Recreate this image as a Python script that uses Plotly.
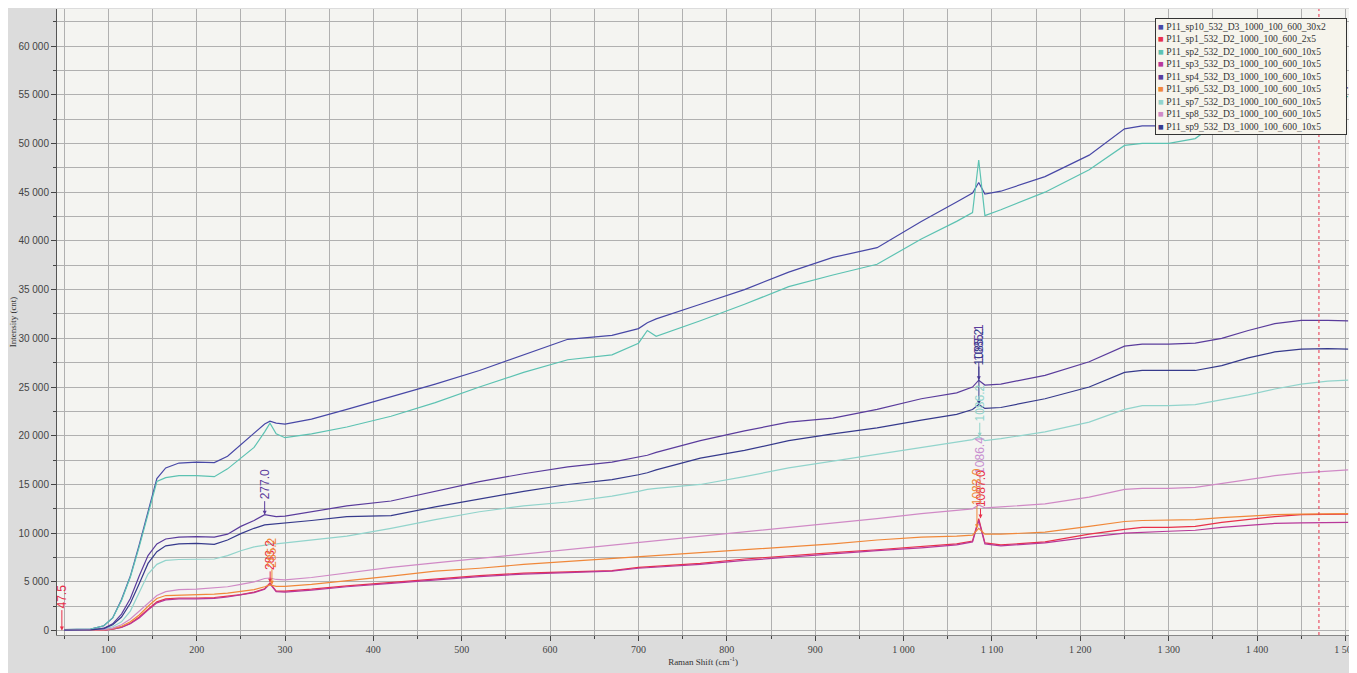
import numpy as np
import plotly.graph_objects as go

# ---------------- data ----------------
X = [50, 80, 95, 105, 115, 125, 135, 145, 155, 165,
     180, 200, 220, 235, 250, 265, 277, 283, 290, 300,
     330, 370, 420, 470, 520, 570, 620, 670, 700, 710,
     720, 770, 820, 870, 920, 970, 1020, 1060, 1078, 1085,
     1092, 1110, 1160, 1210, 1250, 1270, 1300, 1330, 1360, 1390,
     1420, 1450, 1480, 1503]

SP10 = [100, 150, 500, 1300, 3200, 5600, 8800, 12300, 15600, 16700,
        17200, 17300, 17250, 17900, 19100, 20300, 21200, 21500, 21300, 21200,
        21700, 22700, 24000, 25300, 26700, 28300, 29900, 30300, 31000, 31600,
        32000, 33500, 35000, 36800, 38300, 39300, 42000, 44000, 44900, 46000,
        44800, 45100, 46600, 48800, 51500, 51800, 51800, 52300, 53500, 54500,
        55000, 55300, 55700, 55700]
SP1 = [20, 30, 60, 150, 350, 750, 1400, 2200, 2950, 3250,
       3350, 3350, 3400, 3550, 3700, 3950, 4300, 4900, 4050, 4050,
       4250, 4600, 4950, 5300, 5650, 5900, 6000, 6150, 6500, 6550,
       6650, 6900, 7350, 7700, 8000, 8300, 8600, 8900, 9200, 11500,
       9000, 8800, 9100, 9900, 10400, 10600, 10600, 10700, 11100, 11400,
       11700, 11900, 11950, 11950]
SP2 = [100, 150, 500, 1300, 3100, 5500, 8600, 12000, 15300, 15700,
       15900, 15900, 15800, 16600, 17700, 18800, 20400, 21300, 20200, 19800,
       20200, 20900, 22000, 23400, 25000, 26500, 27800, 28300, 29500, 30800,
       30200, 31800, 33500, 35300, 36500, 37600, 40200, 42000, 42900, 48300,
       42600, 43200, 45000, 47300, 49800, 50000, 50000, 50500, 52500, 54300,
       54700, 54800, 54800, 54800]
SP3 = [20, 30, 60, 150, 330, 700, 1300, 2100, 2850, 3150,
       3250, 3250, 3300, 3450, 3650, 3900, 4250, 4800, 4000, 3950,
       4150, 4500, 4850, 5200, 5550, 5800, 5950, 6100, 6400, 6450,
       6550, 6800, 7200, 7550, 7850, 8200, 8500, 8800, 9100, 11300,
       8900, 8700, 9000, 9600, 10000, 10100, 10200, 10300, 10600, 10800,
       11000, 11050, 11100, 11100]
SP4 = [50, 80, 250, 700, 1700, 3300, 5600, 7700, 8900, 9400,
       9600, 9650, 9600, 9900, 10700, 11300, 11900, 11800, 11700, 11750,
       12200, 12800, 13300, 14300, 15300, 16100, 16800, 17300, 17800, 18000,
       18300, 19500, 20500, 21400, 21800, 22700, 23800, 24400, 25000, 25700,
       25200, 25300, 26200, 27600, 29200, 29400, 29400, 29500, 30000, 30800,
       31500, 31850, 31850, 31800]
SP6 = [20, 30, 80, 200, 450, 900, 1600, 2500, 3300, 3600,
       3650, 3650, 3750, 3850, 4000, 4200, 4500, 4700, 4550, 4550,
       4750, 5100, 5600, 6100, 6400, 6800, 7100, 7400, 7600, 7700,
       7750, 8000, 8300, 8600, 8900, 9300, 9600, 9700, 9800, 10500,
       9900, 9900, 10100, 10700, 11200, 11300, 11350, 11400, 11600, 11750,
       11900, 11950, 12000, 12000]
SP7 = [50, 70, 150, 400, 900, 2000, 3900, 5800, 6800, 7200,
       7300, 7350, 7350, 7700, 8200, 8600, 8800, 8850, 8900, 9000,
       9300, 9700, 10500, 11400, 12200, 12800, 13200, 13800, 14300, 14500,
       14600, 15000, 15800, 16700, 17400, 18100, 18800, 19300, 19600, 19900,
       19500, 19700, 20400, 21400, 22700, 23100, 23100, 23200, 23700, 24200,
       24800, 25300, 25600, 25700]
SP8 = [30, 40, 100, 250, 600, 1200, 2000, 2900, 3600, 4000,
       4200, 4250, 4350, 4500, 4750, 5000, 5350, 5400, 5250, 5200,
       5450, 5900, 6500, 6950, 7400, 7900, 8300, 8800, 9000, 9100,
       9200, 9700, 10100, 10600, 11000, 11500, 12000, 12300, 12500, 12900,
       12600, 12700, 13000, 13700, 14500, 14600, 14600, 14700, 15100, 15500,
       15900, 16200, 16400, 16500]
SP9 = [50, 80, 200, 600, 1400, 2800, 4800, 6900, 8100, 8700,
       8900, 8950, 8850, 9300, 9950, 10500, 10850, 10900, 10950, 11000,
       11300, 11700, 11800, 12700, 13500, 14300, 15000, 15500, 16000, 16200,
       16500, 17700, 18500, 19500, 20200, 20800, 21600, 22200, 22700, 23200,
       22800, 22900, 23800, 25000, 26500, 26700, 26700, 26700, 27200, 28000,
       28600, 28900, 28950, 28900]

NAMES = ["P11_sp10_532_D3_1000_100_600_30x2",
         "P11_sp1_532_D2_1000_100_600_2x5",
         "P11_sp2_532_D2_1000_100_600_10x5",
         "P11_sp3_532_D3_1000_100_600_10x5",
         "P11_sp4_532_D3_1000_100_600_10x5",
         "P11_sp6_532_D3_1000_100_600_10x5",
         "P11_sp7_532_D3_1000_100_600_10x5",
         "P11_sp8_532_D3_1000_100_600_10x5",
         "P11_sp9_532_D3_1000_100_600_10x5"]
VALUES = [SP10, SP1, SP2, SP3, SP4, SP6, SP7, SP8, SP9]
COLORS = ["#4848a6", "#e8304a", "#5cc2b2", "#b8389a", "#5a3c9c",
          "#f0883a", "#92d4cc", "#d08ac6", "#363a8c"]

X_TICKS = [100, 200, 300, 400, 500, 600, 700, 800, 900, 1000, 1100, 1200, 1300, 1400, 1500]
X_TICK_LABELS = ["100", "200", "300", "400", "500", "600", "700", "800", "900",
                 "1 000", "1 100", "1 200", "1 300", "1 400", "1 500"]
Y_TICKS = [0, 5000, 10000, 15000, 20000, 25000, 30000, 35000, 40000, 45000, 50000, 55000, 60000]
Y_TICK_LABELS = ["0", "5 000", "10 000", "15 000", "20 000", "25 000", "30 000",
                 "35 000", "40 000", "45 000", "50 000", "55 000", "60 000"]

# peak markers: series index (None = baseline), x position, label, text offset
MARK_SERIES = [None, 4, 1, 5, 4, 8, 6, 7, 1, 5]
MARK_X = [47.5, 277.0, 283.2, 285.2, 1085.1, 1085.2, 1086.2, 1086.4, 1087.0, 1083.0]
MARK_TEXT = ["47.5", "277.0", "283.2", "285.2", "1085.1", "1085.2", "1086.2", "1086.4", "1087.0", "1083.0"]
MARK_AY = [-34, -30, -28, -32, -38, -58, -34, -50, -30, -42]
MARK_COLORS = ["#e8304a", "#5a3c9c", "#e8304a", "#f0883a", "#5a3c9c",
               "#363a8c", "#92d4cc", "#c890d0", "#e8304a", "#f0883a"]
CURSOR_X = 1470

# ---------------- figure ----------------
fig = go.Figure()
for name, vals, col in zip(NAMES, VALUES, COLORS):
    fig.add_trace(go.Scatter(x=X, y=vals, mode="lines", name=name,
                             line=dict(color=col, width=1.2), showlegend=False))

ann = []
for si, mx, mt, ay, mc in zip(MARK_SERIES, MARK_X, MARK_TEXT, MARK_AY, MARK_COLORS):
    if si is None:
        my = 0
    else:
        peak_idx = int(np.argmin(np.abs(np.array(X) - mx)))
        my = VALUES[si][peak_idx]
    ann.append(dict(x=mx, y=my, xref="x", yref="y", text=mt, textangle=-90,
                    showarrow=True, arrowhead=2, arrowsize=0.8, arrowwidth=1,
                    arrowcolor=mc, ax=0, ay=ay,
                    font=dict(family="Liberation Sans Narrow, Liberation Sans, Arial", size=12, color=mc)))

legend_text = "<br>".join(
    f"<span style='color:{c}'>■</span> {n}" for n, c in zip(NAMES, COLORS))
ann.append(dict(x=0.850, y=0.986, xref="paper", yref="paper", xanchor="left", yanchor="top",
                text=legend_text, align="left", showarrow=False, width=186,
                bgcolor="#f6f4ec", bordercolor="#333333", borderwidth=1, borderpad=2,
                font=dict(family="Liberation Serif, Times New Roman, serif", size=9.6, color="#333333")))

fig.update_layout(
    width=1349, height=665,
    margin=dict(l=49, r=8, t=1, b=38),
    paper_bgcolor="#dcdcdc",
    plot_bgcolor="#f4f4f1",
    showlegend=False,
    annotations=ann,
    shapes=[dict(type="line", xref="x", yref="paper", x0=CURSOR_X, x1=CURSOR_X, y0=0, y1=1,
                 line=dict(color="#e8304a", width=1, dash="dot"))],
    xaxis=dict(range=[42, 1504], tickvals=X_TICKS, ticktext=X_TICK_LABELS,
               ticks="outside", ticklen=5, tickcolor="#444",
               showgrid=True, gridcolor="#b0b0b0", gridwidth=1,
               minor=dict(dtick=50, tick0=0, ticks="outside", ticklen=3, tickcolor="#444",
                          showgrid=True, gridcolor="#b0b0b0", gridwidth=1),
               showline=True, linecolor="#888", zeroline=False, automargin=False,
               tickfont=dict(family="Liberation Serif, Times New Roman, serif", size=10, color="#444"),
               title=dict(text="Raman Shift (cm<sup>-1</sup>)", standoff=1,
                          font=dict(family="Liberation Serif, Times New Roman, serif", size=9, color="#333"))),
    yaxis=dict(range=[-450, 63800], tickvals=Y_TICKS, ticktext=Y_TICK_LABELS,
               ticks="outside", ticklen=5, tickcolor="#444",
               showgrid=True, gridcolor="#b0b0b0", gridwidth=1,
               minor=dict(dtick=2500, tick0=0, ticks="outside", ticklen=3, tickcolor="#444",
                          showgrid=True, gridcolor="#b0b0b0", gridwidth=1),
               showline=True, linecolor="#555", zeroline=False, automargin=False,
               tickfont=dict(family="Liberation Sans Narrow, Liberation Sans, Arial", size=10, color="#444"),
               title=dict(text="Intensity (cnt)", standoff=4,
                          font=dict(family="Liberation Serif, Times New Roman, serif", size=9, color="#333"))),
)

fig.write_html("out.html")
